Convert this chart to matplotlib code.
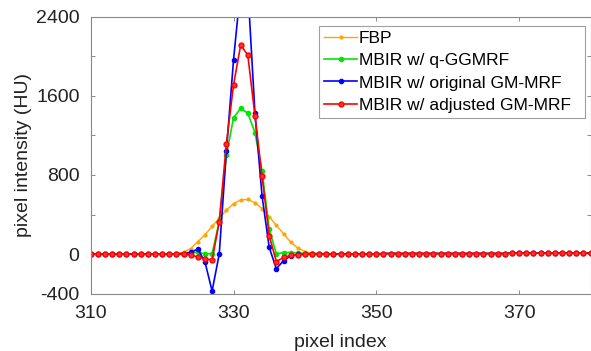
import numpy as np
import matplotlib
matplotlib.use("Agg")
from matplotlib import pyplot as plt
from matplotlib.ticker import FixedLocator, FuncFormatter

plt.rcParams['font.family'] = ['Liberation Sans', 'DejaVu Sans']

# pixel index 310..380
idx = np.arange(310, 381)

# values near the peak (pixel 320..343), flat ~0 elsewhere
fbp_peak = [0, 2, 5, 20, 55, 125, 195, 280, 362, 445, 510, 548,
            552, 520, 459, 379, 290, 205, 120, 60, 25, 8, 3, 0]
ggmrf_peak = [0, 0, 0, 5, 10, 20, 0, 5, 330, 1000, 1380, 1475,
              1425, 1230, 840, 250, 0, 15, 15, 10, 5, 5, 5, 5]
orig_peak = [0, 0, 0, 5, 17, 50, -80, -375, 0, 1040, 1965, 2700,
             2700, 1430, 585, 67, -150, -67, -20, -5, 0, 0, 0, 0]
adj_peak = [0, 0, 0, -5, -10, -30, -50, -60, 324, 1115, 1713, 2115,
            2015, 1400, 786, 184, -77, -35, -15, -10, -5, 0, 0, 0]

flat_left = [0, 0, 0, 0, 0, 0, 0, 0, 0, 0]          # 310..319
flat_right = [0, 0, 0, 0, 0, 0, 0, 5, 5, 5, 5, 5, 5,
              5, 5, 5, 5, 5, 5, 5, 5, 5, 5, 5, 5, 10,
              10, 10, 10, 10, 10, 10, 10, 10, 10, 10, 10]  # 344..380

fbp = flat_left + fbp_peak + flat_right
ggmrf = flat_left + ggmrf_peak + flat_right
orig = flat_left + orig_peak + flat_right
adj = flat_left + adj_peak + flat_right

labels = ['FBP', 'MBIR w/ q-GGMRF', 'MBIR w/ original GM-MRF',
          'MBIR w/ adjusted GM-MRF']
colors = ['#FFA500', '#00E600', '#0000FF', '#FF0000']

fig = plt.figure(figsize=(5.91, 3.51), dpi=100)
ax = fig.add_axes([0.1535, 0.1638, 0.8457, 0.7878])

ax.plot(idx, fbp, color=colors[0], marker='.', ms=4, lw=1.0, label=labels[0])
ax.plot(idx, ggmrf, color=colors[1], marker='.', ms=6, lw=1.2, label=labels[1])
ax.plot(idx, orig, color=colors[2], marker='.', ms=6, lw=1.2, label=labels[2])
ax.plot(idx, adj, color=colors[3], marker='o', ms=3.5, mfc='#FF3030', lw=1.2,
        label=labels[3])

ax.set_xlim(310, 380)
ax.set_ylim(-400, 2400)
ax.set_xticks([310, 330, 350, 370])
ax.yaxis.set_major_locator(FixedLocator(np.arange(-400, 2401, 400)))
shown = {-400, 0, 800, 1600, 2400}
ax.yaxis.set_major_formatter(FuncFormatter(lambda v, p: '%d' % v if int(round(v)) in shown else ''))
ax.tick_params(direction='in', length=3, width=0.6, color='#777777',
               labelsize=14, labelcolor='#222222', top=True, right=True)
ax.tick_params(axis='y', pad=8)
ax.tick_params(axis='x', pad=8)
for sp in ax.spines.values():
    sp.set_color('#888888')
    sp.set_linewidth(0.8)

ax.set_xlabel('pixel index', fontsize=14, color='#222222', labelpad=9)
ax.set_ylabel('pixel intensity (HU)', fontsize=14, color='#222222', labelpad=3)

leg = ax.legend(loc='upper left', bbox_to_anchor=(0.4568, 0.6456, 0.532, 0.322),
                mode='expand', borderaxespad=0, fontsize=12.5, handlelength=1.9,
                handletextpad=0.1, labelspacing=0.4, borderpad=0.3, fancybox=False)
leg.get_frame().set_edgecolor('#888888')
leg.get_frame().set_linewidth(0.8)

fig.savefig('out.png', dpi=100)
